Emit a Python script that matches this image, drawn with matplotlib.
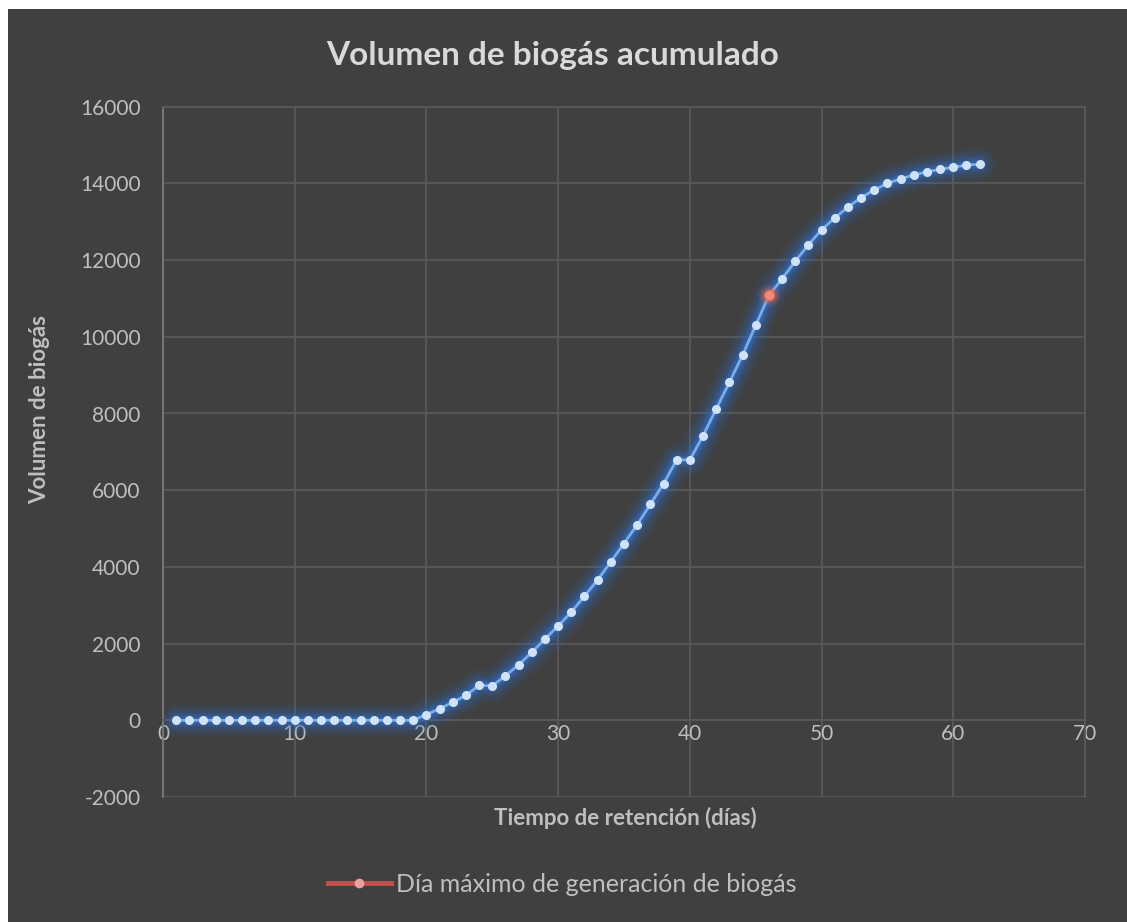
import matplotlib
matplotlib.use("Agg")
import matplotlib.pyplot as plt
from matplotlib.lines import Line2D
from matplotlib.patches import Rectangle

plt.rcParams["font.family"] = ["Lato", "DejaVu Sans"]
plt.rcParams["axes.unicode_minus"] = False

# Datos: volumen de biogás acumulado por día de retención
dias = list(range(1, 63))
volumen = [0] * 19 + [
    150, 300, 470, 650, 910, 900, 1160, 1450, 1770, 2120,
    2460, 2820, 3240, 3660, 4135, 4610, 5100, 5630, 6170, 6790,
    6790, 7420, 8120, 8810, 9520, 10300, 11080, 11510, 11970, 12400,
    12790, 13100, 13380, 13630, 13830, 14000, 14120, 14220, 14300, 14370,
    14420, 14480, 14500,
]

# Día de máxima generación
dia_max = [46]
vol_max = [11080]

x_ticks = list(range(0, 71, 10))
y_ticks = list(range(-2000, 16001, 2000))

titulo = "Volumen de biogás acumulado"
etiqueta_x = "Tiempo de retención (días)"
etiqueta_y = "Volumen de biogás"
etiqueta_max = "Día máximo de generación de biogás"

W, H = 1127, 922
BG = "#404040"
GRID = "#595959"
TXT = "#BFBFBF"

fig = plt.figure(figsize=(W / 100, H / 100), dpi=100)
fig.patch.set_facecolor("white")
fig.add_artist(Rectangle((8 / W, 0), 1, 1 - 9 / H, transform=fig.transFigure,
                         facecolor=BG, edgecolor="none", zorder=-10))

left, right, top, bottom = 163, 1085, 106.7, 797
ax = fig.add_axes([left / W, 1 - bottom / H, (right - left) / W, (bottom - top) / H])
ax.set_facecolor(BG)
ax.set_xlim(0, 70)
ax.set_ylim(-2000, 16000)
ax.set_xticks(x_ticks)
ax.set_yticks(y_ticks)
ax.grid(True, color=GRID, lw=1.3)
ax.set_axisbelow(True)

for s in ["top", "right"]:
    ax.spines[s].set_color(GRID)
    ax.spines[s].set_linewidth(1.3)
ax.spines["left"].set_color("#7A7A7A")
ax.spines["left"].set_linewidth(1.3)
ax.spines["bottom"].set_position(("data", 0))
ax.spines["bottom"].set_color(GRID)
ax.spines["bottom"].set_linewidth(1.3)
# borde inferior del área de trazado en -2000
ax.axhline(-2000, color=GRID, lw=1.3, zorder=1)

ax.tick_params(axis="both", length=0, colors=TXT, labelsize=15)
ax.tick_params(axis="y", pad=16)
ax.tick_params(axis="x", pad=3)

# serie principal con efecto de resplandor
for lw, a in [(24, 0.08), (19, 0.11), (14, 0.16), (9.5, 0.25), (6, 0.4)]:
    ax.plot(dias, volumen, color="#2F70CC", lw=lw, alpha=a,
            solid_capstyle="round", solid_joinstyle="round", zorder=3)
ax.plot(dias, volumen, color="#7BAEE8", lw=2, marker="o", ms=5.5,
        mfc="#CFE2F7", mec="#CFE2F7", zorder=4)

# punto del día máximo
for ms, a in [(16, 0.15), (12, 0.3)]:
    ax.plot(dia_max, vol_max, ls="none", marker="o", ms=ms, color="#E06A50",
            alpha=a, mec="none", zorder=5)
ax.plot(dia_max, vol_max, ls="none", marker="o", ms=7, mfc="#F08C78",
        mec="#E8705A", zorder=6)

fig.text(553 / W, 1 - 55 / H, titulo, ha="center", va="center",
         fontsize=24, fontweight="bold", color="#D9D9D9")
fig.text(625 / W, 1 - 818 / H, etiqueta_x, ha="center", va="center",
         fontsize=16, fontweight="bold", color=TXT)
fig.text(40 / W, 1 - 410 / H, etiqueta_y, ha="center", va="center",
         rotation=90, fontsize=16, fontweight="bold", color=TXT)

handle = Line2D([0], [0], color="#C0504D", lw=3.5, marker="o", ms=6,
                mfc="#E8A0A0", mec="#E8A0A0")
fig.legend([handle], [etiqueta_max], loc="center",
           bbox_to_anchor=(562 / W, 1 - 884 / H), frameon=False,
           fontsize=18, labelcolor=TXT, handlelength=2.5, handletextpad=0.2)

fig.savefig("out.png", dpi=100, facecolor=fig.get_facecolor())
